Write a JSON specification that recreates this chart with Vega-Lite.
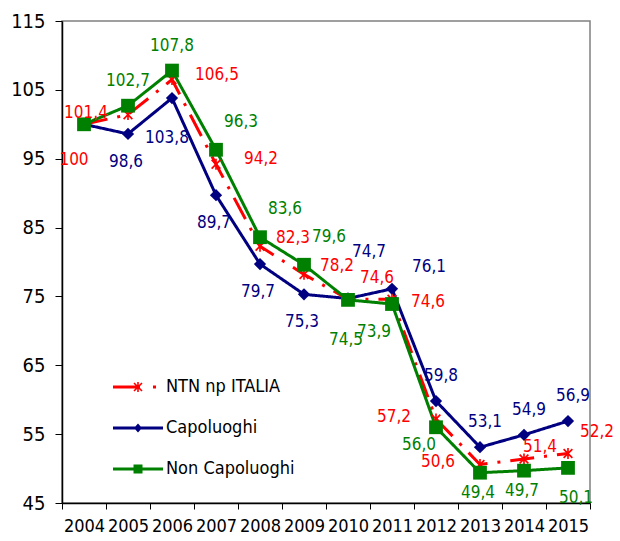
{
  "$schema": "https://vega.github.io/schema/vega-lite/v6.json",
  "width": 528,
  "height": 482,
  "autosize": {"type": "none"},
  "padding": {"left": 62, "top": 21, "right": 30, "bottom": 38},
  "background": "white",
  "config": {
    "locale": {"number": {"decimal": ",", "thousands": ".", "grouping": [3], "currency": ["", " €"]}},
    "font": "DejaVu Sans Condensed, Liberation Sans, sans-serif",
    "view": {"stroke": "#808080", "strokeWidth": 1.5},
    "text": {"font": "DejaVu Sans Condensed, Liberation Sans, sans-serif", "fontSize": 17, "baseline": "middle", "align": "center"}
  },
  "data": {
    "values": [
      {"year": "2004", "series": "Capoluoghi", "value": 100},
      {"year": "2005", "series": "Capoluoghi", "value": 98.6},
      {"year": "2006", "series": "Capoluoghi", "value": 103.8},
      {"year": "2007", "series": "Capoluoghi", "value": 89.7},
      {"year": "2008", "series": "Capoluoghi", "value": 79.7},
      {"year": "2009", "series": "Capoluoghi", "value": 75.3},
      {"year": "2010", "series": "Capoluoghi", "value": 74.7},
      {"year": "2011", "series": "Capoluoghi", "value": 76.1},
      {"year": "2012", "series": "Capoluoghi", "value": 59.8},
      {"year": "2013", "series": "Capoluoghi", "value": 53.1},
      {"year": "2014", "series": "Capoluoghi", "value": 54.9},
      {"year": "2015", "series": "Capoluoghi", "value": 56.9},
      {"year": "2004", "series": "NTN np ITALIA", "value": 100},
      {"year": "2005", "series": "NTN np ITALIA", "value": 101.4},
      {"year": "2006", "series": "NTN np ITALIA", "value": 106.5},
      {"year": "2007", "series": "NTN np ITALIA", "value": 94.2},
      {"year": "2008", "series": "NTN np ITALIA", "value": 82.3},
      {"year": "2009", "series": "NTN np ITALIA", "value": 78.2},
      {"year": "2010", "series": "NTN np ITALIA", "value": 74.6},
      {"year": "2011", "series": "NTN np ITALIA", "value": 74.6},
      {"year": "2012", "series": "NTN np ITALIA", "value": 57.2},
      {"year": "2013", "series": "NTN np ITALIA", "value": 50.6},
      {"year": "2014", "series": "NTN np ITALIA", "value": 51.4},
      {"year": "2015", "series": "NTN np ITALIA", "value": 52.2},
      {"year": "2004", "series": "Non Capoluoghi", "value": 100},
      {"year": "2005", "series": "Non Capoluoghi", "value": 102.7},
      {"year": "2006", "series": "Non Capoluoghi", "value": 107.8},
      {"year": "2007", "series": "Non Capoluoghi", "value": 96.3},
      {"year": "2008", "series": "Non Capoluoghi", "value": 83.6},
      {"year": "2009", "series": "Non Capoluoghi", "value": 79.6},
      {"year": "2010", "series": "Non Capoluoghi", "value": 74.5},
      {"year": "2011", "series": "Non Capoluoghi", "value": 73.9},
      {"year": "2012", "series": "Non Capoluoghi", "value": 56.0},
      {"year": "2013", "series": "Non Capoluoghi", "value": 49.4},
      {"year": "2014", "series": "Non Capoluoghi", "value": 49.7},
      {"year": "2015", "series": "Non Capoluoghi", "value": 50.1}
    ]
  },
  "encoding": {
    "x": {
      "field": "year", "type": "ordinal",
      "scale": {"type": "band", "paddingInner": 0, "paddingOuter": 0},
      "axis": {"title": null, "tickBand": "extent", "labelOverlap": false, "labelAngle": 0,
               "domainColor": "black", "domainWidth": 1.5, "tickColor": "black", "tickSize": 6,
               "labelFontSize": 18, "labelColor": "black", "labelPadding": 8}
    },
    "y": {
      "field": "value", "type": "quantitative",
      "scale": {"domain": [45, 115], "nice": false, "zero": false},
      "axis": {"title": null, "grid": false, "values": [45, 55, 65, 75, 85, 95, 105, 115],
               "domainColor": "black", "domainWidth": 1.5, "tickColor": "black", "tickSize": 7,
               "labelFontSize": 20, "labelColor": "black", "labelPadding": 10}
    }
  },
  "layer": [
    {
      "mark": {"type": "line", "strokeWidth": 3},
      "encoding": {
        "color": {
          "field": "series", "type": "nominal",
          "scale": {"domain": ["NTN np ITALIA", "Capoluoghi", "Non Capoluoghi"], "range": ["#FF0000", "#000080", "#008000"]},
          "legend": {"orient": "none", "legendX": 66, "legendY": 356, "title": null, "padding": 0,
                     "symbolSize": 400, "symbolStrokeWidth": 0,
                     "labelFontSize": 18, "labelColor": "black", "labelOffset": 18, "rowPadding": 22}
        },
        "strokeDash": {
          "field": "series", "type": "nominal",
          "scale": {"domain": ["NTN np ITALIA", "Capoluoghi", "Non Capoluoghi"], "range": [[24, 10, 3, 10], [1, 0], [1, 0]]},
          "legend": null
        }
      }
    },
    {
      "transform": [{"filter": "false"}],
      "mark": {"type": "point", "filled": true, "opacity": 1},
      "encoding": {
        "color": {
          "field": "series", "type": "nominal",
          "legend": {"orient": "none", "legendX": 66, "legendY": 356, "title": null, "padding": 0,
                     "symbolSize": 400, "symbolStrokeWidth": 0,
                     "labelFontSize": 18, "labelColor": "black", "labelOffset": 18, "rowPadding": 22}
        },
        "shape": {
          "field": "series", "type": "nominal",
          "scale": {"domain": ["NTN np ITALIA", "Capoluoghi", "Non Capoluoghi"],
                    "range": [
                      "M-2.5,-0.15L0.2,-0.15L0.2,0.15L-2.5,0.15ZM-0.08,-0.5L0.08,-0.5L0.08,0.5L-0.08,0.5ZM-0.343,-0.457L0.457,0.343L0.343,0.457L-0.457,-0.343ZM-0.457,0.343L0.343,-0.457L0.457,-0.343L-0.343,0.457ZM1.5,-0.15L1.8,-0.15L1.8,0.15L1.5,0.15Z",
                      "M-2.5,-0.15L2.5,-0.15L2.5,0.15L-2.5,0.15ZM0,-0.45L0.4,0L0,0.45L-0.4,0Z",
                      "M-2.5,-0.15L2.5,-0.15L2.5,0.15L-2.5,0.15ZM-0.45,-0.45L0.45,-0.45L0.45,0.45L-0.45,0.45Z"
                    ]},
          "legend": {"orient": "none", "legendX": 66, "legendY": 356, "title": null, "padding": 0,
                     "symbolSize": 400, "symbolStrokeWidth": 0,
                     "labelFontSize": 18, "labelColor": "black", "labelOffset": 18, "rowPadding": 22}
        }
      }
    },
    {
      "transform": [{"filter": {"field": "series", "equal": "Capoluoghi"}}],
      "mark": {"type": "point", "filled": true, "opacity": 1, "shape": "diamond", "size": 150},
      "encoding": {
        "color": {
          "field": "series", "type": "nominal",
          "legend": {"orient": "none", "legendX": 66, "legendY": 356, "title": null, "padding": 0,
                     "symbolSize": 400, "symbolStrokeWidth": 0,
                     "labelFontSize": 18, "labelColor": "black", "labelOffset": 18, "rowPadding": 22}
        }
      }
    },
    {
      "transform": [{"filter": {"field": "series", "equal": "NTN np ITALIA"}}],
      "mark": {"type": "point", "filled": true, "opacity": 1, "size": 120,
               "shape": "M-0.15,-1L0.15,-1L0.15,1L-0.15,1ZM-0.69,-0.91L0.91,0.69L0.69,0.91L-0.91,-0.69ZM-0.91,0.69L0.69,-0.91L0.91,-0.69L-0.69,0.91Z"},
      "encoding": {
        "color": {
          "field": "series", "type": "nominal",
          "legend": {"orient": "none", "legendX": 66, "legendY": 356, "title": null, "padding": 0,
                     "symbolSize": 400, "symbolStrokeWidth": 0,
                     "labelFontSize": 18, "labelColor": "black", "labelOffset": 18, "rowPadding": 22}
        }
      }
    },
    {
      "transform": [{"filter": {"field": "series", "equal": "Non Capoluoghi"}}],
      "mark": {"type": "point", "filled": true, "opacity": 1, "shape": "square", "size": 190},
      "encoding": {
        "color": {
          "field": "series", "type": "nominal",
          "legend": {"orient": "none", "legendX": 66, "legendY": 356, "title": null, "padding": 0,
                     "symbolSize": 400, "symbolStrokeWidth": 0,
                     "labelFontSize": 18, "labelColor": "black", "labelOffset": 18, "rowPadding": 22}
        }
      }
    },
    {"transform": [{"filter": {"and": [{"field": "series", "equal": "NTN np ITALIA"}, {"field": "year", "oneOf": ["2006", "2007"]}]}}],
     "mark": {"type": "text", "dx": 45, "dy": -5, "color": "#FF0000"}, "encoding": {"text": {"field": "value", "type": "quantitative", "format": ".1f"}}},
    {"transform": [{"filter": {"and": [{"field": "series", "equal": "NTN np ITALIA"}, {"field": "year", "oneOf": ["2008", "2009"]}]}}],
     "mark": {"type": "text", "dx": 33, "dy": -8, "color": "#FF0000"}, "encoding": {"text": {"field": "value", "type": "quantitative", "format": ".1f"}}},
    {"transform": [{"filter": {"and": [{"field": "series", "equal": "NTN np ITALIA"}, {"field": "year", "oneOf": ["2010", "2015"]}]}}],
     "mark": {"type": "text", "dx": 29, "dy": -21, "color": "#FF0000"}, "encoding": {"text": {"field": "value", "type": "quantitative", "format": ".1f"}}},
    {"transform": [{"filter": {"and": [{"field": "series", "equal": "NTN np ITALIA"}, {"field": "year", "oneOf": ["2011"]}]}}],
     "mark": {"type": "text", "dx": 36, "dy": 3, "color": "#FF0000"}, "encoding": {"text": {"field": "value", "type": "quantitative", "format": ".1f"}}},
    {"transform": [{"filter": {"and": [{"field": "series", "equal": "NTN np ITALIA"}, {"field": "year", "oneOf": ["2005", "2012", "2013"]}]}}],
     "mark": {"type": "text", "dx": -42, "dy": -2, "color": "#FF0000"}, "encoding": {"text": {"field": "value", "type": "quantitative", "format": ".1f"}}},
    {"transform": [{"filter": {"and": [{"field": "series", "equal": "NTN np ITALIA"}, {"field": "year", "oneOf": ["2014"]}]}}],
     "mark": {"type": "text", "dx": 16, "dy": -12, "color": "#FF0000"}, "encoding": {"text": {"field": "value", "type": "quantitative", "format": ".1f"}}},
    {"transform": [{"filter": {"and": [{"field": "series", "equal": "NTN np ITALIA"}, {"field": "year", "oneOf": ["2004"]}]}}],
     "mark": {"type": "text", "dx": -10, "dy": 36, "color": "#FF0000"}, "encoding": {"text": {"field": "value", "type": "quantitative", "format": ".0f"}}},
    {"transform": [{"filter": {"and": [{"field": "series", "equal": "Capoluoghi"}, {"field": "year", "oneOf": ["2005", "2007", "2008", "2009"]}]}}],
     "mark": {"type": "text", "dx": -2, "dy": 28, "color": "#000080"}, "encoding": {"text": {"field": "value", "type": "quantitative", "format": ".1f"}}},
    {"transform": [{"filter": {"and": [{"field": "series", "equal": "Capoluoghi"}, {"field": "year", "oneOf": ["2006"]}]}}],
     "mark": {"type": "text", "dx": -5, "dy": 40, "color": "#000080"}, "encoding": {"text": {"field": "value", "type": "quantitative", "format": ".1f"}}},
    {"transform": [{"filter": {"and": [{"field": "series", "equal": "Capoluoghi"}, {"field": "year", "oneOf": ["2010"]}]}}],
     "mark": {"type": "text", "dx": 21, "dy": -46, "color": "#000080"}, "encoding": {"text": {"field": "value", "type": "quantitative", "format": ".1f"}}},
    {"transform": [{"filter": {"and": [{"field": "series", "equal": "Capoluoghi"}, {"field": "year", "oneOf": ["2011"]}]}}],
     "mark": {"type": "text", "dx": 37, "dy": -22, "color": "#000080"}, "encoding": {"text": {"field": "value", "type": "quantitative", "format": ".1f"}}},
    {"transform": [{"filter": {"and": [{"field": "series", "equal": "Capoluoghi"}, {"field": "year", "oneOf": ["2012", "2013", "2014", "2015"]}]}}],
     "mark": {"type": "text", "dx": 5, "dy": -25, "color": "#000080"}, "encoding": {"text": {"field": "value", "type": "quantitative", "format": ".1f"}}},
    {"transform": [{"filter": {"and": [{"field": "series", "equal": "Non Capoluoghi"}, {"field": "year", "oneOf": ["2005", "2006"]}]}}],
     "mark": {"type": "text", "dx": 0, "dy": -25, "color": "#008000"}, "encoding": {"text": {"field": "value", "type": "quantitative", "format": ".1f"}}},
    {"transform": [{"filter": {"and": [{"field": "series", "equal": "Non Capoluoghi"}, {"field": "year", "oneOf": ["2007", "2008", "2009"]}]}}],
     "mark": {"type": "text", "dx": 25, "dy": -28, "color": "#008000"}, "encoding": {"text": {"field": "value", "type": "quantitative", "format": ".1f"}}},
    {"transform": [{"filter": {"and": [{"field": "series", "equal": "Non Capoluoghi"}, {"field": "year", "oneOf": ["2010"]}]}}],
     "mark": {"type": "text", "dx": -2, "dy": 40, "color": "#008000"}, "encoding": {"text": {"field": "value", "type": "quantitative", "format": ".1f"}}},
    {"transform": [{"filter": {"and": [{"field": "series", "equal": "Non Capoluoghi"}, {"field": "year", "oneOf": ["2011"]}]}}],
     "mark": {"type": "text", "dx": -18, "dy": 28, "color": "#008000"}, "encoding": {"text": {"field": "value", "type": "quantitative", "format": ".1f"}}},
    {"transform": [{"filter": {"and": [{"field": "series", "equal": "Non Capoluoghi"}, {"field": "year", "oneOf": ["2012"]}]}}],
     "mark": {"type": "text", "dx": -17, "dy": 18, "color": "#008000"}, "encoding": {"text": {"field": "value", "type": "quantitative", "format": ".1f"}}},
    {"transform": [{"filter": {"and": [{"field": "series", "equal": "Non Capoluoghi"}, {"field": "year", "oneOf": ["2013", "2014"]}]}}],
     "mark": {"type": "text", "dx": -2, "dy": 20, "color": "#008000"}, "encoding": {"text": {"field": "value", "type": "quantitative", "format": ".1f"}}},
    {"transform": [{"filter": {"and": [{"field": "series", "equal": "Non Capoluoghi"}, {"field": "year", "oneOf": ["2015"]}]}}],
     "mark": {"type": "text", "dx": 8, "dy": 30, "color": "#008000"}, "encoding": {"text": {"field": "value", "type": "quantitative", "format": ".1f"}}}
  ]
}
